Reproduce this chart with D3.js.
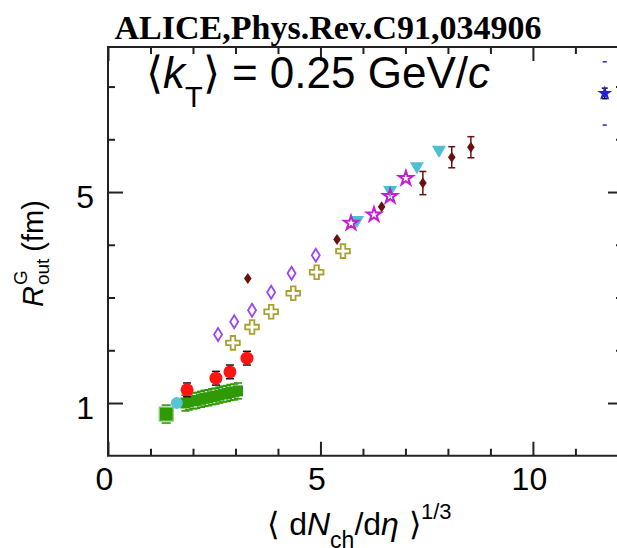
<!DOCTYPE html>
<html>
<head>
<meta charset="utf-8">
<script src="https://cdn.jsdelivr.net/npm/d3@7"></script>
<style>
  body { margin: 0; background: #fff; }
  text { font-family: "Liberation Sans", Arial, sans-serif; fill: #000; }
</style>
</head>
<body>
<svg id="chart" width="617" height="548"></svg>
<script>
// values
const ppX = [1.82, 1.9, 2.01, 2.08, 2.19, 2.27, 2.36, 2.45, 2.53, 2.62, 2.71, 2.8, 2.88, 2.97, 3.06]
const ppY = [1.0, 1.02, 1.04, 1.05, 1.07, 1.09, 1.1, 1.12, 1.13, 1.15, 1.17, 1.18, 1.2, 1.21, 1.23]
const ppLowX = [1.37]
const ppLowY = [0.79]
const cyanDotX = [1.62]
const cyanDotY = [1.0]
const redX = [1.86, 2.54, 2.87, 3.27]
const redY = [1.25, 1.47, 1.59, 1.85]
const violetX = [2.59, 2.97, 3.39, 3.84, 4.32, 4.89]
const violetY = [2.30, 2.54, 2.76, 3.10, 3.46, 3.80]
const oliveX = [2.94, 3.39, 3.84, 4.36, 4.91, 5.53]
const oliveY = [2.14, 2.44, 2.73, 3.08, 3.48, 3.88]
const maroonX = [3.29, 5.39, 6.44, 7.41, 8.09, 8.54]
const maroonY = [3.36, 4.10, 4.72, 5.17, 5.66, 5.85]
const maroonErr = [0, 0, 0, 0.22, 0.2, 0.2]
const magentaX = [5.72, 6.26, 6.64, 7.01]
const magentaY = [4.41, 4.57, 4.92, 5.26]
const triX = [5.86, 6.64, 7.27, 7.79]
const triY = [4.45, 5.02, 5.47, 5.78]
const blueX = [11.69]
const blueY = [6.87]
const xMajor = [0, 5, 10]
const xMinor = [1, 2, 3, 4, 6, 7, 8, 9, 11, 12]
const yMajor = [1, 5]
const yMinor = [2, 3, 4, 6, 7]

const zip = (xs, ys) => xs.map((v, i) => ({x: v, y: ys[i], i: i}))

const svg = d3.select("#chart")

const x = d3.scaleLinear().domain([0, 12.12]).range([108, 623])
const y = d3.scaleLinear().domain([0, 7.75]).range([455.75, 47])

const axisColor = "#222"

// frame
svg.append("rect")
  .attr("x", x(0)).attr("y", y(7.75))
  .attr("width", x(12.12) - x(0))
  .attr("height", y(0) - y(7.75))
  .attr("fill", "none")
  .attr("stroke", axisColor)
  .attr("stroke-width", 2)

function ticks(axis, transform) {
  const g = svg.append("g").attr("transform", transform).call(axis)
  g.select(".domain").remove()
  g.selectAll(".tick line").attr("stroke", axisColor).attr("stroke-width", 2)
  return g
}

ticks(d3.axisBottom(x).tickValues(xMinor).tickSize(-7).tickFormat(""), `translate(0,${y(0)})`)
const bx = ticks(d3.axisBottom(x).tickValues(xMajor).tickSize(-14).tickSizeOuter(0).tickPadding(12), `translate(0,${y(0)})`)
bx.selectAll("text").attr("font-size", 32).attr("dx", "-4")
ticks(d3.axisTop(x).tickValues(xMinor).tickSize(-7).tickFormat(""), `translate(0,${y(7.75)})`)
ticks(d3.axisTop(x).tickValues(xMajor).tickSize(-14).tickFormat(""), `translate(0,${y(7.75)})`)

ticks(d3.axisLeft(y).tickValues(yMinor).tickSize(-7).tickFormat(""), `translate(${x(0)},0)`)
const ly = ticks(d3.axisLeft(y).tickValues(yMajor).tickSize(-15).tickPadding(14), `translate(${x(0)},0)`)
ly.selectAll("text").attr("font-size", 32).attr("dy", "0.48em")
ticks(d3.axisRight(y).tickValues(yMinor).tickSize(-7).tickFormat(""), `translate(${x(12.12)},0)`)
ticks(d3.axisRight(y).tickValues(yMajor).tickSize(-15).tickFormat(""), `translate(${x(12.12)},0)`)

// markers
const green = "#2f9a06"
const plot = svg.append("g")

function sysDashes(data, dy, color, w) {
  plot.selectAll(null).data(data).join("g").each(function (d) {
    [d.y - dy, d.y + dy].forEach(v => {
      d3.select(this).append("line")
        .attr("x1", x(d.x) - w / 2).attr("x2", x(d.x) + w / 2)
        .attr("y1", y(v)).attr("y2", y(v))
        .attr("stroke", color).attr("stroke-width", 1.6)
    })
  })
}

function errBars(data, err, color, cap) {
  plot.selectAll(null).data(data).join("g").each(function (d) {
    const e = typeof err === "function" ? err(d) : err
    if (!e) return
    const g = d3.select(this)
    g.append("line").attr("x1", x(d.x)).attr("x2", x(d.x))
      .attr("y1", y(d.y - e)).attr("y2", y(d.y + e))
      .attr("stroke", color).attr("stroke-width", 1.5)
    ;[d.y - e, d.y + e].forEach(v => g.append("line")
      .attr("x1", x(d.x) - cap).attr("x2", x(d.x) + cap)
      .attr("y1", y(v)).attr("y2", y(v))
      .attr("stroke", color).attr("stroke-width", 1.5))
  })
}

// green band (pp)
const pp = zip(ppX, ppY)
sysDashes(pp, 0.15, green, 8)
plot.selectAll(null).data(pp).join("rect")
  .attr("x", d => x(d.x) - 5).attr("y", d => y(d.y) - 5.5)
  .attr("width", 10).attr("height", 11)
  .attr("fill", green)

const ppLow = zip(ppLowX, ppLowY)
sysDashes(ppLow, 0.17, green, 9)
plot.selectAll(null).data(ppLow).join("rect")
  .attr("x", d => x(d.x) - 7).attr("y", d => y(d.y) - 7)
  .attr("width", 14).attr("height", 14)
  .attr("fill", green).attr("stroke", "#8fd070").attr("stroke-width", 1.2)

// cyan dot
plot.selectAll(null).data(zip(cyanDotX, cyanDotY)).join("circle")
  .attr("cx", d => x(d.x)).attr("cy", d => y(d.y)).attr("r", 6)
  .attr("fill", "#56c6d6")

// red circles
const red = zip(redX, redY)
errBars(red, 0.13, "#111", 4)
plot.selectAll(null).data(red).join("circle")
  .attr("cx", d => x(d.x)).attr("cy", d => y(d.y)).attr("r", 6.5)
  .attr("fill", "#ff1414")

// violet open diamonds
const diamond = (w, h) => `M0,${-h}L${w},0L0,${h}L${-w},0Z`
plot.selectAll(null).data(zip(violetX, violetY)).join("path")
  .attr("d", diamond(4, 6.5))
  .attr("transform", d => `translate(${x(d.x)},${y(d.y)})`)
  .attr("fill", "none").attr("stroke", "#9b45f5").attr("stroke-width", 1.8)

// olive open crosses
plot.selectAll(null).data(zip(oliveX, oliveY)).join("path")
  .attr("d", d3.symbol(d3.symbolCross, 105)())
  .attr("transform", d => `translate(${x(d.x)},${y(d.y)})`)
  .attr("fill", "none").attr("stroke", "#a8a032").attr("stroke-width", 1.8)

// cyan down triangles
plot.selectAll(null).data(zip(triX, triY)).join("path")
  .attr("d", d3.symbol(d3.symbolTriangle, 85)())
  .attr("transform", d => `translate(${x(d.x)},${y(d.y) - 1}) rotate(180)`)
  .attr("fill", "#4cc0d2")

// magenta open stars
plot.selectAll(null).data(zip(magentaX, magentaY)).join("path")
  .attr("d", d3.symbol(d3.symbolStar, 62)())
  .attr("transform", d => `translate(${x(d.x)},${y(d.y)})`)
  .attr("fill", "none").attr("stroke", "#c61cd2").attr("stroke-width", 2)

// maroon small diamonds with errors
const maroon = zip(maroonX, maroonY)
errBars(maroon, d => maroonErr[d.i], "#6a1010", 3.5)
plot.selectAll(null).data(maroon).join("path")
  .attr("d", diamond(3.8, 5.5))
  .attr("transform", d => `translate(${x(d.x)},${y(d.y)})`)
  .attr("fill", "#6a1010")

// blue star
const blue = zip(blueX, blueY)
sysDashes(blue, 0.6, "#3030c0", 4)
errBars(blue, 0.1, "#111", 3)
plot.selectAll(null).data(blue).join("path")
  .attr("d", d3.symbol(d3.symbolStar, 70)())
  .attr("transform", d => `translate(${x(d.x)},${y(d.y)})`)
  .attr("fill", "#2222dd")

// title
svg.append("text")
  .attr("x", 328).attr("y", 39)
  .attr("text-anchor", "middle")
  .style("font-family", "'Liberation Serif', 'Times New Roman', serif")
  .attr("font-weight", "bold")
  .attr("font-size", 34)
  .text("ALICE,Phys.Rev.C91,034906")

// kT annotation
const kt = svg.append("text").attr("x", 146).attr("y", 88).attr("font-size", 44)
kt.append("tspan").style("font-family", "'DejaVu Sans', sans-serif").attr("font-weight", 300).text("⟨")
kt.append("tspan").attr("font-style", "italic").text("k")
kt.append("tspan").attr("font-size", 29).attr("dy", 19).text("T")
kt.append("tspan").attr("dy", -19).style("font-family", "'DejaVu Sans', sans-serif").attr("font-weight", 300).text("⟩")
kt.append("tspan").text(" = 0.25 GeV/")
kt.append("tspan").attr("font-style", "italic").text("c")

// x label
const xl = svg.append("text").attr("x", 267).attr("y", 535).attr("font-size", 32)
xl.append("tspan").style("font-family", "'DejaVu Sans', sans-serif").attr("font-weight", 300).text("⟨ ")
xl.append("tspan").text("d")
xl.append("tspan").attr("font-style", "italic").text("N")
xl.append("tspan").attr("font-size", 23).attr("dy", 13).text("ch")
xl.append("tspan").attr("dy", -13).text("/d")
xl.append("tspan").attr("font-style", "italic").text("η")
xl.append("tspan").style("font-family", "'DejaVu Sans', sans-serif").attr("font-weight", 300).text(" ⟩")
xl.append("tspan").attr("font-size", 22).attr("dy", -16).text("1/3")

// y label
const yl = svg.append("g").attr("transform", "translate(43,307) rotate(-90)")
const rText = yl.append("text").attr("x", 0).attr("y", 0).attr("font-size", 29)
  .attr("font-style", "italic").text("R")
const rw = rText.node().getComputedTextLength()
yl.append("text").attr("x", rw + 1).attr("y", -16).attr("font-size", 19).text("G")
const outText = yl.append("text").attr("x", rw + 1).attr("y", 6).attr("font-size", 19).text("out")
const ow = outText.node().getComputedTextLength()
yl.append("text").attr("x", rw + ow + 8).attr("y", 0).attr("font-size", 29).text("(fm)")
</script>
</body>
</html>
